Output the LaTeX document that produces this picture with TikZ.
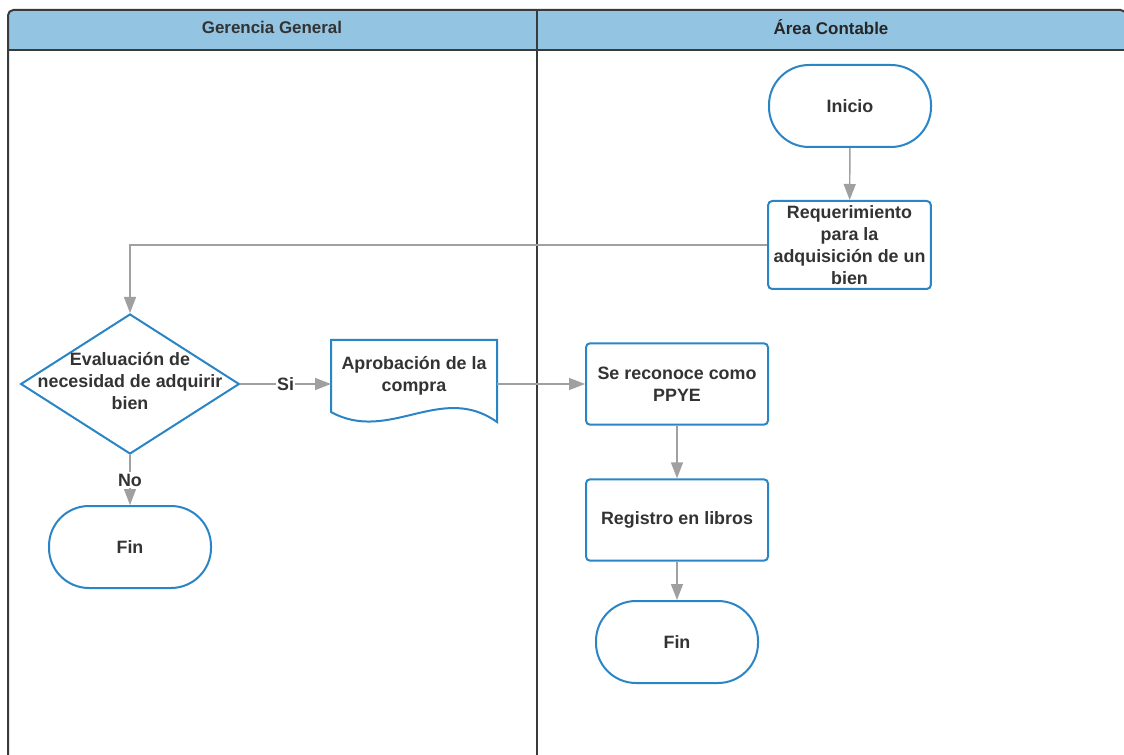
\documentclass[tikz,border=0pt]{standalone}
\usepackage{fontspec}
\setmainfont{Liberation Sans}
\usetikzlibrary{arrows.meta, shapes.geometric, backgrounds}
\definecolor{lanegray}{HTML}{3A3A3A}
\definecolor{headblue}{HTML}{93C4E1}
\definecolor{boxblue}{HTML}{2A85C6}
\definecolor{flowgray}{HTML}{A0A0A0}
\definecolor{txtgray}{HTML}{333333}
\tikzset{
  basenode/.style={draw=boxblue,line width=1.5pt,fill=white,text=txtgray,align=center,inner sep=2pt,font=\bfseries\fontsize{13.4}{16.5}\selectfont},
  termnode/.style={basenode,rounded corners=30pt,minimum width=121.5pt,minimum height=61.5pt},
  procnode/.style={basenode,rounded corners=3pt,minimum width=136.5pt,minimum height=61pt},
  decnode/.style={basenode,diamond,minimum width=164pt,minimum height=105pt,inner sep=0pt},
  docnode/.style={basenode,draw=none,fill=none,minimum width=123pt,minimum height=52.5pt},
  docline/.style={draw=boxblue,line width=1.5pt,fill=white},
  lanehead/.style={text=txtgray,font=\bfseries\fontsize{12.7}{15}\selectfont},
  flowedge/.style={-{Triangle[length=12pt,width=9pt]},line width=1.1pt,flowgray},
  edgelabel/.style={fill=white,text=txtgray,inner sep=1pt,font=\bfseries\fontsize{13.4}{15}\selectfont},
}

\begin{document}
\begin{tikzpicture}[x=0.75pt,y=-0.75pt]
  \clip (0,0) rectangle (1124,755);
  % ---- swimlanes ----
  \fill[headblue] (8,50) {[rounded corners=4pt] -- (8,10) -- (1126,10)} -- (1126,50) -- cycle;
  \draw[lanegray,line width=1.5pt,rounded corners=4pt] (8,800) -- (8,10) -- (1126,10) -- (1126,800);
  \draw[lanegray,line width=1.5pt] (8,50) -- (1126,50);
  \draw[lanegray,line width=1.5pt] (537,10) -- (537,800);
  \node[lanehead] (gg) at (272,27) {Gerencia General};
  \node[lanehead,text=black!85] (ac) at (831,27) {Área Contable};
  % ---- Área Contable ----
  \node[termnode] (inicio) at (850,106) {Inicio};
  \node[procnode,minimum width=122pt,minimum height=66pt] (req) at (849.5,245)
    {Requerimiento\\para la\\adquisición de un\\bien};
  \node[procnode] (ppye) at (677,384) {Se reconoce como\\PPYE};
  \node[procnode] (reg) at (677,520) {Registro en libros};
  \node[termnode] (fin2) at (677,642) {Fin};
  % ---- Gerencia General ----
  \node[decnode] (dec) at (130,384) {};
  \node[text=txtgray,align=center,font=\bfseries\fontsize{13.4}{16.8}\selectfont] (evaltxt) at (130,381)
    {Evaluación de\\necesidad de adquirir\\bien};
  \node[docnode] (aprob) at (414,376) {Aprobación de la\\compra};
  % wavy bottom edge of the document shape, drawn behind its text
  \begin{scope}[on background layer]
    \draw[docline] (aprob.south west) -- (aprob.north west) -- (aprob.north east) -- ++(0,82)
      .. controls +(-56,-40) and +(58,32) .. (aprob.south west) -- cycle;
  \end{scope}
  \node[termnode] (fin1) at (130,547) {Fin};
  % ---- connectors ----
  \draw[flowedge] (inicio) -- (req);
  \draw[flowedge] (req.west) -| (dec.north);
  \draw[flowedge] (dec.east) -- node[edgelabel] {Si} (dec.east -| aprob.west);
  \draw[flowedge] (aprob.east |- ppye.west) -- (ppye.west);
  \draw[flowedge] (dec.south) -- node[edgelabel] {No} (fin1.north);
  \draw[flowedge] (ppye) -- (reg);
  \draw[flowedge] (reg) -- (fin2);
\end{tikzpicture}
\end{document}
